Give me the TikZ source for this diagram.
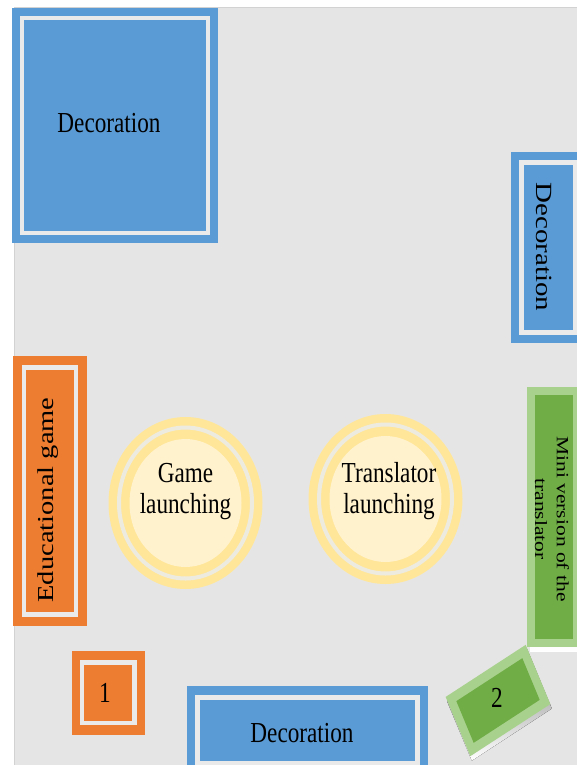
\documentclass[tikz,border=0pt]{standalone}
\usepackage{fontspec}
\setmainfont{Liberation Serif}
\definecolor{bg}{HTML}{E5E5E5}
\definecolor{bgline}{HTML}{D2D2D2}
\definecolor{blueA}{HTML}{5B9BD5}
\definecolor{orangeA}{HTML}{ED7D31}
\definecolor{greenD}{HTML}{70AD47}
\definecolor{greenL}{HTML}{A9D18E}
\definecolor{shade}{HTML}{8E9E84}
\definecolor{stripe}{HTML}{EAEAEA}
\definecolor{ringY}{HTML}{FFE699}
\definecolor{paleY}{HTML}{FFF2CC}
\definecolor{gapY}{HTML}{EDEAE0}
\begin{document}
\begin{tikzpicture}[x=1pt,y=-1pt,
  lbl/.style={xscale=0.8, inner sep=0pt, text=black, font=\fontsize{29}{31}\selectfont},
  smalllbl/.style={lbl, font=\fontsize{21.5}{27}\selectfont},
  bluebox/.style={fill=blueA},
  orangebox/.style={fill=orangeA},
  stripeline/.style={draw=stripe, line width=4.5pt},
  ringfill/.style={fill=ringY},
  gapring/.style={draw=gapY, line width=4pt},
  paleinner/.style={fill=paleY}]
\clip (0,0) rectangle (577,765);
\fill[white] (0,0) rectangle (577,765);
\draw[fill=bg, draw=bgline, line width=1pt] (14,8) rectangle (600,790);

% top-left decoration
\fill[bluebox] (12,8) rectangle (218,243);
\draw[stripeline] (22,18) rectangle (208,233);
\node[lbl] (d1) at (109,123) {Decoration};

% right decoration
\fill[bluebox] (511,152) rectangle (588,343);
\draw[stripeline] (521.5,162.5) rectangle (575,332.5);
\node[lbl, rotate=-90] (d2) at (544,247) {Decoration};

% educational game
\fill[orangebox] (13,356) rectangle (87,626);
\draw[stripeline] (24,367.5) rectangle (76,614.5);
\node[lbl, font=\fontsize{28.5}{31}\selectfont, rotate=90] (eg) at (48,500) {Educational game};

% circles
\fill[ringfill] (185.5,503) ellipse [x radius=77, y radius=86];
\draw[gapring] (185.5,503) ellipse [x radius=66.5, y radius=75.5];
\fill[paleinner] (185.5,503) ellipse [x radius=56, y radius=64];
\node[lbl, align=center] (g) at (185.5,492) {Game\\launching};

\fill[ringfill] (385.5,499) ellipse [x radius=77, y radius=85];
\draw[gapring] (385.5,499) ellipse [x radius=66.5, y radius=74.5];
\fill[paleinner] (385.5,499) ellipse [x radius=56, y radius=63];
\node[lbl, align=center] (t) at (389,491) {Translator\\launching};

% mini version
\fill[shade] (530,391) rectangle (590,651);
\fill[greenL] (527,387) rectangle (585,647);
\fill[greenD] (535,395) rectangle (573,639);
\node[smalllbl, rotate=-90, align=center] (mv) at (552,519) {Mini version of the\\translator};

% box 1
\fill[orangebox] (72,651) rectangle (145,735);
\draw[stripeline] (82,662.5) rectangle (134.5,723);
\node[lbl] (n1) at (105,693) {1};

% bottom decoration
\fill[bluebox] (187,686) rectangle (428,775);
\draw[stripeline] (197.5,697.5) rectangle (417.5,763.5);
\node[lbl] (d3) at (302,733) {Decoration};

% box 2
\begin{scope}[shift={(499.5,705)}, xscale=0.8, rotate=27.5]
  \fill[shade] (-56.4,-33.4) rectangle (56.4,33.4);
\end{scope}
\begin{scope}[shift={(498,700.5)}, xscale=0.8, rotate=27.5]
  \fill[greenL] (-56.4,-33.4) rectangle (56.4,33.4);
  \fill[greenD] (-46.5,-23.5) rectangle (46.5,23.5);
\end{scope}
\node[lbl] (n2) at (497,698) {2};
\end{tikzpicture}
\end{document}
